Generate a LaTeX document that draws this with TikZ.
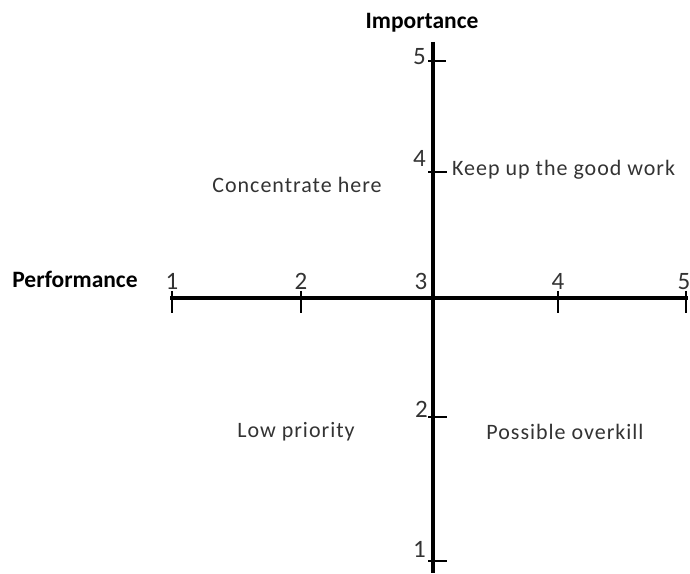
\documentclass[tikz,border=0pt]{standalone}
\usepackage{fontspec}
\setmainfont{Carlito}
\usepackage{xcolor}
\definecolor{inkgray}{HTML}{333333}

\begin{document}
\begin{tikzpicture}[x=1pt,y=1pt,
  axisline/.style={line width=4pt,black},
  tickline/.style={line width=1.6pt,black},
  ticknum/.style={anchor=base,inner sep=0pt,text=inkgray,font=\fontsize{25}{28}\selectfont},
  quadtext/.style={inner sep=0pt,text=inkgray,font=\fontsize{22}{25}\selectfont\addfontfeature{LetterSpace=4.5}},
  axistitle/.style={inner sep=0pt,font=\bfseries\fontsize{23.5}{26}\selectfont}]
\useasboundingbox (0,0) rectangle (690,573);
% axes
\coordinate (xlo) at (170,275);
\coordinate (xhi) at (688,275);
\coordinate (ytop) at (433,531);
\coordinate (ybot) at (433,0);
\draw[axisline] (xlo) -- (xhi);
\draw[axisline] (ytop) -- (ybot);
% performance ticks
\draw[tickline] (172,282) -- (172,260);
\draw[tickline] (301,282) -- (301,260);
\draw[tickline] (558,282) -- (558,260);
\draw[tickline] (686,282) -- (686,260);
\node[ticknum] (p1) at (172,283) {1};
\node[ticknum] (p2) at (301,283) {2};
\node[ticknum] (p3) at (421,283) {3};
\node[ticknum] (p4) at (558,283) {4};
\node[ticknum] (p5) at (684,283) {5};
% importance ticks
\draw[tickline] (428,512) -- (446,512);
\draw[tickline] (428,401) -- (447,401);
\draw[tickline] (428,156) -- (447,156);
\draw[tickline] (428,12) -- (447,12);
\node[ticknum,anchor=base east] (i5) at (426,508) {5};
\node[ticknum,anchor=base east] (i4) at (426,406) {4};
\node[ticknum,anchor=base east] (i2) at (428,156) {2};
\node[ticknum,anchor=base east] (i1) at (426,16) {1};
% titles
\node[axistitle] (imp) at (422,550) {Importance};
\node[axistitle] (perf) at (75,294) {Performance};
% quadrants
\node[quadtext] (conc) at (297,388) {Concentrate here};
\node[quadtext,anchor=west] (keep) at (452,403) {Keep up the good work};
\node[quadtext] (low) at (296,141) {Low priority};
\node[quadtext] (over) at (565,141) {Possible overkill};
\end{tikzpicture}
\end{document}
